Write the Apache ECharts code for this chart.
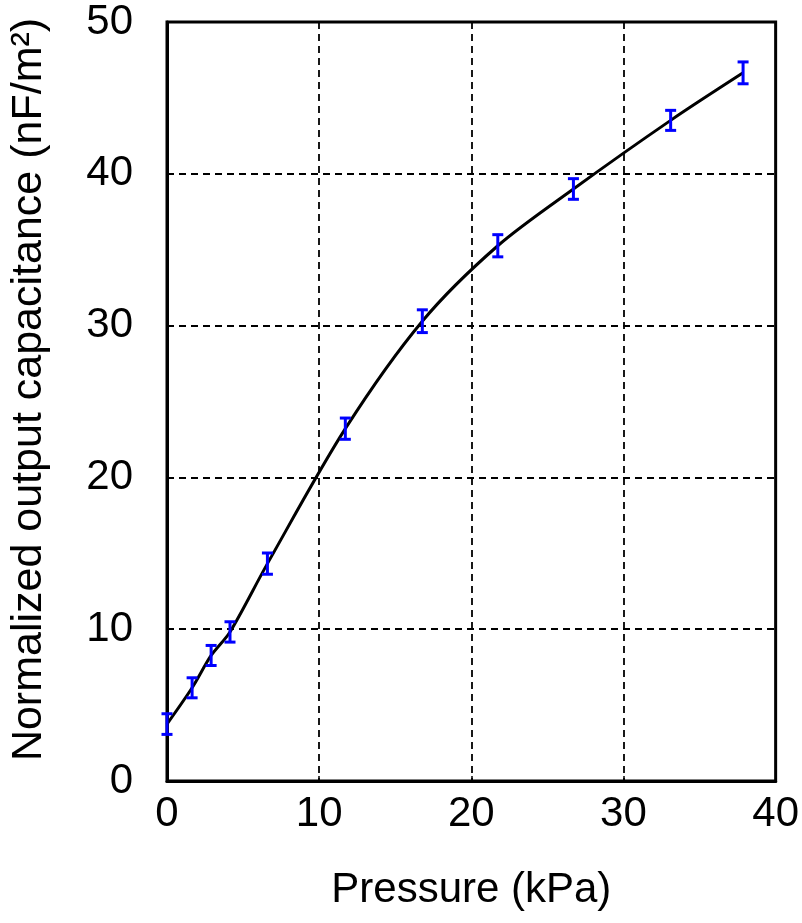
<!DOCTYPE html>
<html><head><meta charset="utf-8">
<script src="https://cdn.jsdelivr.net/npm/echarts@6/dist/echarts.min.js"></script>
<style>html,body{margin:0;padding:0;background:#fff}#c{width:802px;height:923px}</style>
</head><body><div id="c"></div>
<script>
const pressure = [0, 1.65, 2.9, 4.14, 6.6, 11.72, 16.78, 21.74, 26.71, 33.1, 37.86];
const capacitance = [3.75, 6.14, 8.27, 9.82, 14.32, 23.21, 30.29, 35.26, 39.0, 43.52, 46.65];
const errHalf = [0.68, 0.66, 0.66, 0.67, 0.7, 0.7, 0.75, 0.73, 0.68, 0.66, 0.72];
const xTicks = [0, 10, 20, 30, 40];
const yTicks = [0, 10, 20, 30, 40, 50];

const lineData = pressure.map((x, i) => [x, capacitance[i]]);
const errData = pressure.map((x, i) => [x, capacitance[i] - errHalf[i], capacitance[i] + errHalf[i]]);

const font = 'Liberation Sans, Arial, sans-serif';
const chart = echarts.init(document.getElementById('c'), null, {renderer: 'canvas'});
chart.setOption({
  animation: false,
  backgroundColor: '#fff',
  grid: {left: 164, right: 26, top: 22, bottom: 142, show: true, borderColor: '#000', borderWidth: 3, backgroundColor: 'transparent'},
  xAxis: {
    type: 'value', min: xTicks[0], max: xTicks[xTicks.length - 1], interval: 10,
    name: 'Pressure (kPa)', nameLocation: 'middle', nameGap: 88,
    nameTextStyle: {fontFamily: font, fontSize: 42, color: '#000'},
    axisLine: {show: true, lineStyle: {color: '#000', width: 3}},
    axisTick: {show: true, inside: true, length: 5, lineStyle: {color: '#000', width: 1.5}},
    axisLabel: {fontFamily: font, fontSize: 42, color: '#000', margin: 12},
    splitLine: {show: true, lineStyle: {color: '#000', width: 1.8, type: [7, 5]}}
  },
  yAxis: {
    type: 'value', min: yTicks[0], max: yTicks[yTicks.length - 1], interval: 10,
    name: 'Normalized output capacitance (nF/m\u00B2)', nameLocation: 'middle', nameGap: 116, nameRotate: 90,
    nameTextStyle: {fontFamily: font, fontSize: 43, color: '#000', padding: [0, 0, 0, 24]},
    axisLine: {show: true, lineStyle: {color: '#000', width: 3}},
    axisTick: {show: true, inside: true, length: 5, lineStyle: {color: '#000', width: 1.5}},
    axisLabel: {fontFamily: font, fontSize: 42, color: '#000', margin: 34},
    splitLine: {show: true, lineStyle: {color: '#000', width: 1.8, type: [7, 5]}}
  },
  series: [
    {
      type: 'line', data: lineData, smooth: 0.3, symbol: 'none',
      lineStyle: {color: '#000', width: 3}, z: 3
    },
    {
      type: 'custom', data: errData, z: 4,
      renderItem: function (params, api) {
        const x = api.value(0);
        const lo = api.coord([x, api.value(1)]);
        const hi = api.coord([x, api.value(2)]);
        const hw = 5.5;
        const st = {stroke: '#0000ff', lineWidth: 3};
        return {type: 'group', children: [
          {type: 'line', shape: {x1: lo[0], y1: lo[1], x2: hi[0], y2: hi[1]}, style: st},
          {type: 'line', shape: {x1: lo[0] - hw, y1: lo[1], x2: lo[0] + hw, y2: lo[1]}, style: st},
          {type: 'line', shape: {x1: hi[0] - hw, y1: hi[1], x2: hi[0] + hw, y2: hi[1]}, style: st}
        ]};
      }
    }
  ]
});
</script></body></html>
